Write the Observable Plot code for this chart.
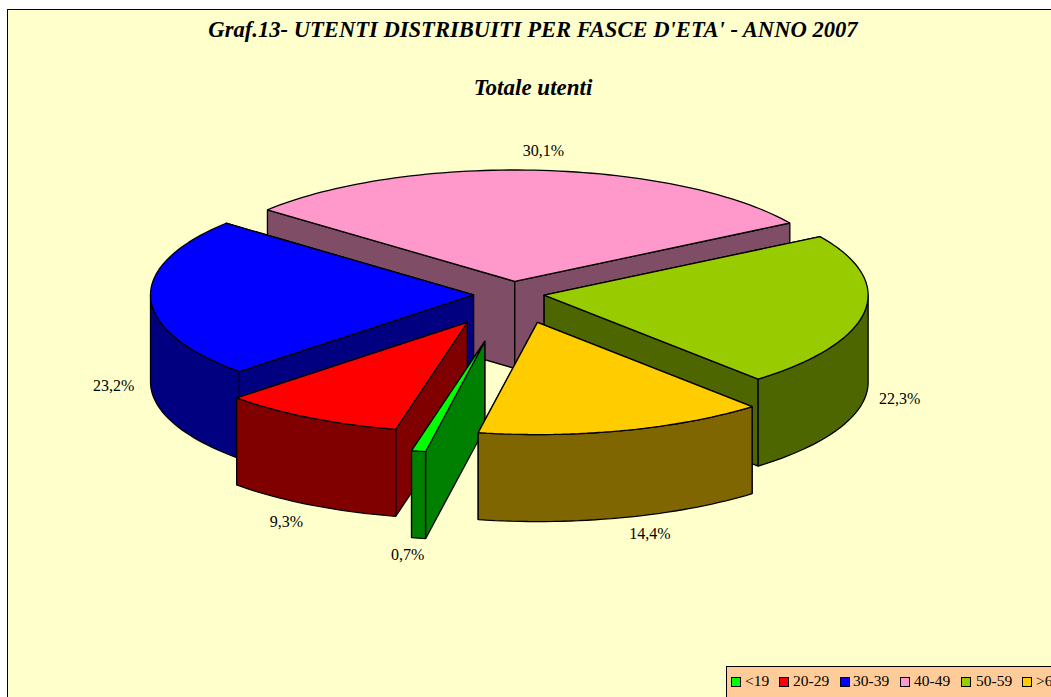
<!DOCTYPE html>
<html><head><meta charset="utf-8">
<script src="https://cdn.jsdelivr.net/npm/d3@7"></script>
<script src="https://cdn.jsdelivr.net/npm/@observablehq/plot@0.6"></script>
<style>
html,body{margin:0;padding:0;background:#fff;overflow:hidden;width:1051px;height:697px}
body{position:relative;font-family:"Liberation Serif",serif;color:#000}
#frame{position:absolute;left:7px;top:9px;width:1100px;height:760px;background:#FFFFCC;border:1px solid #000;box-sizing:border-box}
.t{position:absolute;left:7px;width:1052px;text-align:center;font-weight:bold;font-style:italic;white-space:nowrap}
#chart{position:absolute;left:0;top:0}
#legend{position:absolute;left:726px;top:666px;width:400px;height:60px;background:#FFCC99;border:1px solid #000;box-sizing:border-box}
.sw{position:absolute;top:10px;width:8px;height:8px;border:1px solid #000;box-sizing:content-box}
.lb{position:absolute;top:4px;font-size:15.5px;line-height:20px;white-space:nowrap}
</style></head><body>
<div id="frame"></div>
<div class="t" style="top:17px;font-size:22.6px;line-height:26px">Graf.13- UTENTI DISTRIBUITI PER FASCE D'ETA' - ANNO 2007</div>
<div class="t" style="top:75px;font-size:23px;line-height:26px">Totale utenti</div>
<div id="chart"></div>
<div id="legend"></div>
<script>
const categories = ["<19","20-29","30-39","40-49","50-59",">60"];
const shares = [0.7,9.3,23.2,30.1,22.3,14.4];
const topColors = ["#00FF00","#FF0000","#0000FF","#FF99CC","#99CC00","#FFCC00"];
const sideColors = ["#008000","#800000","#000080","#804D66","#4D6600","#806600"];

// pie layout
const cx = 510, cy = 294, tilt = 0.345, depth = 87, firstAngle = 190.5;
const radius = [325,318,323,323,324,325];
const pull = [136,90,37,38,33,90];
const nudge = [[2,1],[1.5,1],[0,0],[1.5,0],[1,-1],[3,-2]];
const drawOrder = [3,2,4,1,0,5];
const labelShift = [[-11,17],[-23,17],[-37,1],[5,-19],[35,0],[26,16]];

const rad = d => d*Math.PI/180;
let acc = firstAngle;
const slices = categories.map((c,i)=>{
  const a0 = acc, a1 = acc + shares[i]*3.6; acc = a1;
  const mid = (a0+a1)/2;
  const ax = cx + nudge[i][0] + pull[i]*Math.sin(rad(mid)), ay = cy + nudge[i][1] - pull[i]*tilt*Math.cos(rad(mid));
  return {c,i,a0,a1,mid,ax,ay,R:radius[i]};
});
const rim = (s,a)=>({x:s.ax+s.R*Math.sin(rad(a)), y:s.ay-s.R*tilt*Math.cos(rad(a))});
const arcAngles = (a,b)=>{const n=Math.max(2,Math.ceil((b-a)/1.5));return d3.range(n+1).map(k=>a+(b-a)*k/n);};

const pts = [];
function face(id,color,list){
  const closed = list.concat([list[0]]);
  closed.forEach(p=>pts.push({face:id,color,x:p.x,y:p.y}));
}
drawOrder.forEach(i=>{
  const s = slices[i], apex = {x:s.ax,y:s.ay};
  const down = p=>({x:p.x,y:p.y+depth});
  const cuts = [s.a0,s.a1].map(a=>rim(s,a)).sort((p,q)=>p.y-q.y);
  cuts.forEach((p,k)=>face(`${i}c${k}`,sideColors[i],[apex,p,down(p),down(apex)]));
  // visible outer wall: the part of the rim on the near side
  [[90,270],[450,630]].forEach(([lo,hi],k)=>{
    const a=Math.max(s.a0,lo), b=Math.min(s.a1,hi);
    if(b>a){
      const arc=arcAngles(a,b).map(t=>rim(s,t));
      face(`${i}w${k}`,sideColors[i],arc.concat(arc.slice().reverse().map(down)));
    }
  });
  face(`${i}t`,topColors[i],[apex].concat(arcAngles(s.a0,s.a1).map(t=>rim(s,t))));
});

const labels = slices.map((s,i)=>{
  const p = rim(s,s.mid), near = Math.cos(rad(s.mid))<0 || i===2;
  return {text:shares[i].toFixed(1).replace(".",",")+"%",
          x:p.x+labelShift[i][0], y:p.y+(near?depth:0)+labelShift[i][1]};
});

const plot = Plot.plot({
  width:1051,height:697,margin:0,
  x:{domain:[0,1051],range:[0,1051],axis:null},
  y:{domain:[0,697],range:[0,697],axis:null},
  style:{background:"transparent"},
  marks:[
    Plot.line(pts,{x:"x",y:"y",z:"face",fill:"color",stroke:"#000",strokeWidth:1.3,strokeLinejoin:"miter",curve:"linear"}),
    Plot.text(labels,{x:"x",y:"y",text:"text",fontSize:16,fontFamily:"Liberation Serif",fill:"#000"})
  ]
});
document.getElementById("chart").append(plot);

const swatchX=[4,52,113,173,234,295], textX=[18,66,126,187,249,309];
const lg=document.getElementById("legend");
categories.forEach((c,i)=>{
  const s=document.createElement("span");s.className="sw";s.style.left=swatchX[i]+"px";s.style.background=topColors[i];lg.append(s);
  const t=document.createElement("span");t.className="lb";t.style.left=textX[i]+"px";t.textContent=c;lg.append(t);
});
</script>
</body></html>
